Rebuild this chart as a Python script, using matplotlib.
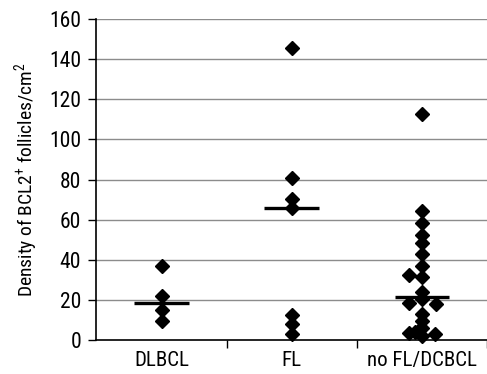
import matplotlib
matplotlib.use("Agg")
import matplotlib.pyplot as plt
from matplotlib import font_manager

names = {f.name for f in font_manager.fontManager.ttflist}
fams = [f for f in ['Liberation Sans Narrow', 'Roboto Condensed', 'Open Sans Condensed',
                    'Roboto', 'DejaVu Sans'] if f in names]
plt.rcParams['font.family'] = fams
plt.rcParams['mathtext.fontset'] = 'custom'
plt.rcParams['mathtext.rm'] = fams[0]

# Data
categories = ["DLBCL", "FL", "no FL/DCBCL"]

dlbcl_vals = [37, 22, 15, 9.6]
dlbcl_offs = [0, 0, 0, 0]

fl_vals = [145.5, 81, 70.3, 65.7, 12.5, 7.8, 2.8]
fl_offs = [0, 0, 0, 0, 0, 0, 0]

nofl_vals = [112.7, 64.3, 58.5, 52.2, 48.5, 42.9, 37.1, 31.3, 32.4, 23.8, 20.3,
             18.3, 17.8, 13.0, 9.6, 6.2, 3.3, 4.1, 4.8, 2.0, 2.8]
nofl_offs = [0, 0, 0, 0, 0, 0, 0, 0, -0.1, 0, 0,
             -0.1, 0.11, 0, 0, 0, -0.1, -0.055, -0.02, 0, 0.1]

medians = [18.4, 65.7, 21.6]

fig = plt.figure(figsize=(4.87, 3.74), dpi=100)
ax = fig.add_axes([0.198, 0.091, 0.802, 0.858])

for y in range(20, 161, 20):
    ax.axhline(y, color='#8c8c8c', lw=1.0, zorder=1)

groups = [(dlbcl_vals, dlbcl_offs), (fl_vals, fl_offs), (nofl_vals, nofl_offs)]
for i, (vals, offs) in enumerate(groups):
    xs = [i + 1 + o for o in offs]
    ax.plot(xs, vals, 'D', color='black', ms=6.8, ls='none', zorder=3, clip_on=False)
    ax.plot([i + 1 - 0.21, i + 1 + 0.21], [medians[i], medians[i]],
            color='black', lw=2.4, zorder=4, solid_capstyle='butt')

ax.set_xlim(0.5, 3.5)
ax.set_ylim(0, 160)
ax.set_yticks(range(0, 161, 20))
ax.set_xticks([1, 2, 3])
ax.set_xticklabels(categories, fontsize=15)
ax.set_xticks([1.5, 2.5, 3.5], minor=True)
ax.tick_params(axis='x', which='major', length=0, pad=8)
ax.tick_params(axis='x', which='minor', length=6, direction='out', width=1)
ax.tick_params(axis='y', labelsize=15.5, length=6, width=1, direction='out', pad=5)
for s in ['top', 'right']:
    ax.spines[s].set_visible(False)
ax.spines['left'].set_linewidth(1.2)
ax.spines['bottom'].set_linewidth(1.2)

ax.set_ylabel("Density of BCL2$^{+}$ follicles/cm$^{2}$", fontsize=14, labelpad=6)

fig.savefig("out.png", dpi=100)
